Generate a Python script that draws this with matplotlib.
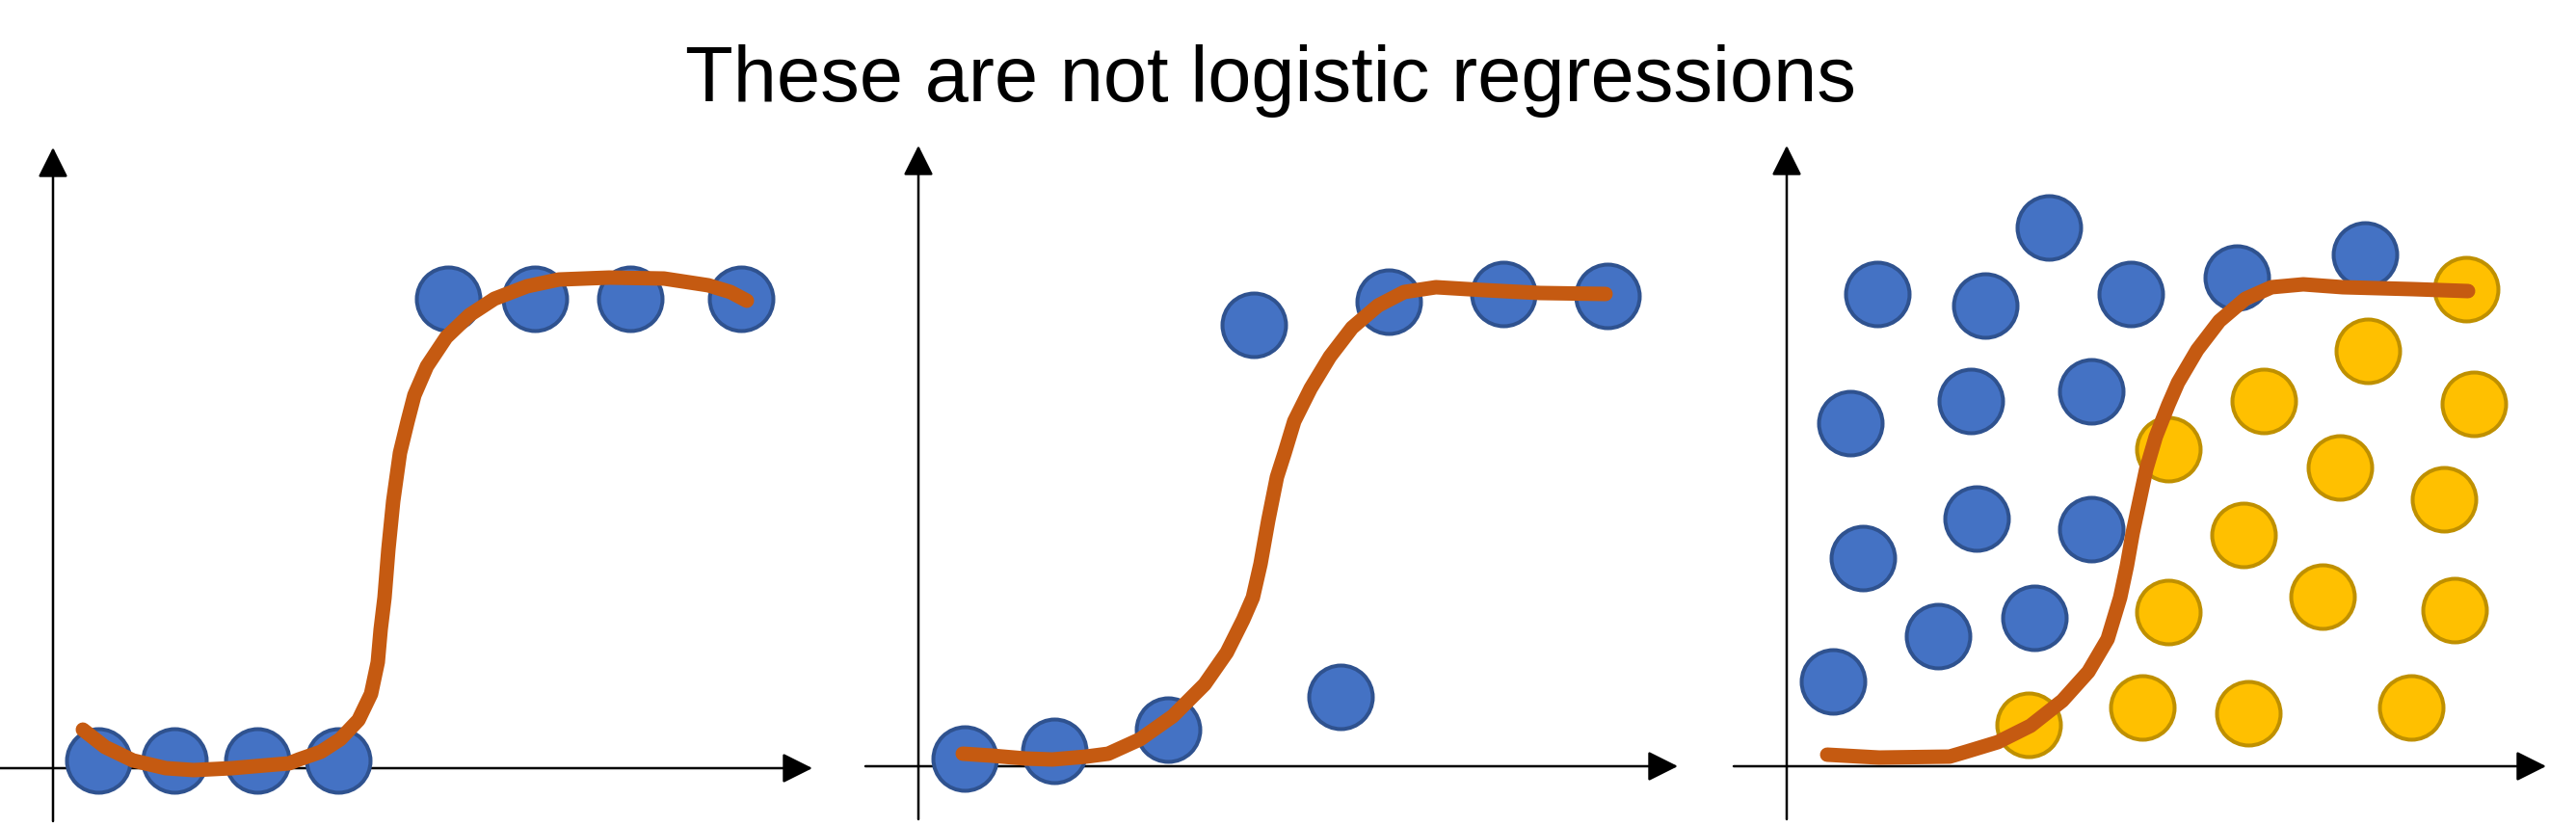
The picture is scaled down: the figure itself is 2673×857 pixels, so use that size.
import matplotlib.pyplot as plt

# colours (office palette)
BLUE = "#4472C4"
BLUE_EDGE = "#2F528F"
GOLD = "#FFC000"
GOLD_EDGE = "#BF9000"
CURVE = "#C55A11"

# ---- panel 1: clean step data ----
p1_x = [0.47, 1.26, 2.12, 2.96, 4.10, 5.00, 5.99, 7.14]
p1_y = [0.08, 0.08, 0.08, 0.08, 4.87, 4.87, 4.87, 4.87]
p1_curve_x = [0.31, 0.54, 0.83, 1.17, 1.46, 1.86, 2.21, 2.45, 2.55, 2.78, 2.98, 3.17, 3.30, 3.37,
              3.40, 3.44, 3.48, 3.53, 3.60, 3.68, 3.75, 3.88, 4.08, 4.32, 4.58, 4.92, 5.25, 5.77,
              6.34, 6.80, 7.03, 7.20]
p1_curve_y = [0.40, 0.22, 0.08, 0.00, -0.02, 0.00, 0.03, 0.05, 0.09, 0.17, 0.30, 0.50, 0.77, 1.10,
              1.44, 1.77, 2.27, 2.77, 3.27, 3.60, 3.87, 4.17, 4.47, 4.70, 4.87, 5.00, 5.07, 5.09,
              5.08, 5.01, 4.94, 4.85]

# ---- panel 2: with two odd points ----
p2_x = [0.48, 1.41, 2.59, 3.48, 4.38, 4.88, 6.07, 7.15]
p2_y = [0.08, 0.16, 0.38, 4.58, 0.72, 4.82, 4.90, 4.88]
p2_curve_x = [0.46, 0.76, 1.11, 1.39, 1.74, 1.97, 2.30, 2.64, 2.97, 3.20, 3.37, 3.47, 3.55, 3.63,
              3.72, 3.80, 3.90, 4.07, 4.27, 4.50, 4.77, 5.04, 5.37, 5.87, 6.45, 7.13]
p2_curve_y = [0.13, 0.11, 0.08, 0.07, 0.10, 0.13, 0.28, 0.52, 0.85, 1.18, 1.52, 1.75, 2.10, 2.55,
              3.00, 3.25, 3.58, 3.92, 4.25, 4.55, 4.78, 4.92, 4.97, 4.94, 4.91, 4.90]

# ---- panel 3: two classes in 2D ----
p3_blue_x = [0.94, 2.06, 2.72, 3.57, 4.67, 6.00, 0.66, 1.91, 3.16, 0.79, 1.97, 3.16, 1.57, 2.57, 0.48]
p3_blue_y = [4.90, 4.78, 5.59, 4.90, 5.07, 5.31, 3.56, 3.79, 3.89, 2.16, 2.57, 2.46, 1.35, 1.54, 0.88]
p3_gold_x = [7.05, 6.03, 7.13, 4.95, 3.96, 5.74, 6.82, 4.74, 3.96, 5.56, 6.93, 2.51, 3.69, 4.79, 6.48]
p3_gold_y = [4.95, 4.31, 3.76, 3.79, 3.29, 3.10, 2.77, 2.40, 1.60, 1.76, 1.62, 0.43, 0.61, 0.55, 0.61]
p3_curve_x = [0.42, 0.96, 1.69, 1.86, 2.19, 2.53, 2.86, 3.13, 3.33, 3.46, 3.53, 3.59, 3.66, 3.73,
              3.83, 3.96, 4.06, 4.26, 4.49, 4.76, 5.03, 5.36, 5.77, 6.50, 7.07]
p3_curve_y = [0.12, 0.09, 0.10, 0.15, 0.25, 0.42, 0.68, 0.98, 1.32, 1.75, 2.08, 2.42, 2.75, 3.08,
              3.42, 3.75, 3.98, 4.32, 4.62, 4.85, 4.97, 5.00, 4.97, 4.95, 4.93]

title = "These are not logistic regressions"

W, H = 2673, 857
fig = plt.figure(figsize=(W / 100, H / 100), dpi=100)

# axis origins in pixels (from top-left), 1 data unit = 100 px
origins = [(55, 797), (953, 795), (1854, 795)]


def make_panel(ox, oy):
    left, right, top, bottom = ox - 55, ox + 800, 140, 857
    ax = fig.add_axes([left / W, 1 - bottom / H, (right - left) / W, (bottom - top) / H])
    ax.set_xlim((left - ox) / 100, (right - ox) / 100)
    ax.set_ylim((oy - bottom) / 100, (oy - top) / 100)
    ax.axis("off")
    # arrows for the axes
    arrow = dict(arrowstyle="-|>", mutation_scale=48, lw=1.8, color="black",
                 shrinkA=0, shrinkB=0)
    ax.annotate("", xy=(7.88, 0), xytext=(-0.55, 0), arrowprops=arrow)
    ax.annotate("", xy=(0, 6.44), xytext=(0, -0.55), arrowprops=arrow)
    return ax


dot = dict(s=2256, linewidths=2.9, zorder=3)
line = dict(color=CURVE, lw=10.8, solid_capstyle="round", solid_joinstyle="round", zorder=4)

ax1 = make_panel(*origins[0])
ax1.scatter(p1_x, p1_y, c=BLUE, edgecolors=BLUE_EDGE, **dot)
ax1.plot(p1_curve_x, p1_curve_y, **line)

ax2 = make_panel(*origins[1])
ax2.scatter(p2_x, p2_y, c=BLUE, edgecolors=BLUE_EDGE, **dot)
ax2.plot(p2_curve_x, p2_curve_y, **line)

ax3 = make_panel(*origins[2])
ax3.scatter(p3_blue_x, p3_blue_y, c=BLUE, edgecolors=BLUE_EDGE, **dot)
ax3.scatter(p3_gold_x, p3_gold_y, c=GOLD, edgecolors=GOLD_EDGE, **dot)
ax3.plot(p3_curve_x, p3_curve_y, **line)

fig.text(1318 / W, 1 - 105 / H, title, ha="center", va="baseline",
         fontsize=58.5, family="Liberation Sans")

fig.savefig("out.png", dpi=100)
